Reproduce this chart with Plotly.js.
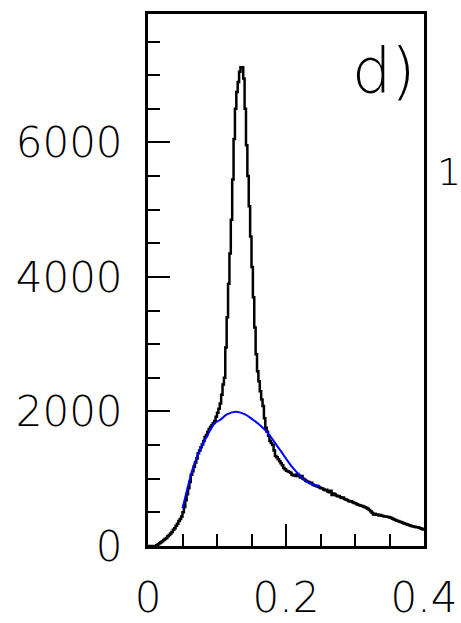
<!DOCTYPE html>
<html>
<head>
<meta charset="utf-8">
<script src="https://cdn.plot.ly/plotly-3.0.1.min.js"></script>
<style>
html,body{margin:0;padding:0;background:#fff;}
#chart{width:461px;height:623px;}
</style>
</head>
<body>
<div id="chart"></div>
<script>
// Histogram: bin width and counts per bin (bins start at 0)
const binWidth = 0.002;
const histCounts = [
  0, 0, 0, 0, 0, 0, 10, 25, 40, 55,
  70, 90, 105, 120, 145, 165, 185, 210, 240, 265,
  300, 330, 370, 400, 440, 500, 580, 680, 770, 860,
  950, 1060, 1110, 1180, 1240, 1300, 1380, 1420, 1470, 1510,
  1560, 1620, 1650, 1700, 1740, 1770, 1800, 1830, 1860, 1920,
  1980, 2040, 2120, 2250, 2400, 2500, 2950, 3400, 3900, 4350,
  4850, 5450, 6050, 6500, 6750, 6900, 7050, 7120, 7120, 6950,
  6500, 5960, 5500, 5050, 4600, 4150, 3700, 3250, 2850, 2600,
  2450, 2300, 2180, 2080, 1900, 1760, 1700, 1640, 1560, 1530,
  1500, 1420, 1340, 1320, 1290, 1260, 1230, 1200, 1160, 1140,
  1120, 1110, 1100, 1090, 1060, 1050, 1060, 1040, 1070, 1050,
  1020, 1040, 1000, 990, 970, 960, 950, 935, 940, 915,
  905, 895, 890, 880, 870, 860, 855, 840, 830, 835,
  810, 800, 820, 760, 780, 770, 750, 740, 745, 725,
  715, 720, 700, 690, 685, 670, 660, 665, 650, 640,
  635, 620, 615, 605, 600, 595, 585, 575, 565, 555,
  535, 515, 495, 470, 480, 465, 470, 455, 460, 450,
  445, 440, 440, 435, 430, 425, 415, 405, 395, 385,
  375, 370, 360, 355, 345, 340, 330, 325, 315, 310,
  300, 295, 290, 285, 280, 280, 270, 265, 255, 245
];

// Background fit (blue)
const fitX = [0.050, 0.058, 0.0657, 0.0773, 0.0851, 0.0966, 0.1043, 0.115, 0.1275, 0.140, 0.1526, 0.162, 0.172, 0.1913, 0.2106, 0.230, 0.240, 0.2493];
const fitY = [560, 890, 1179, 1476, 1625, 1824, 1874, 1960, 1997, 1960, 1874, 1800, 1700, 1428, 1155, 956, 910, 892];

// Axis ticks
const xTickVals = [0, 0.2, 0.4];
const xTickText = ["0", "0.2", "0.4"];
const yTickVals = [0, 2000, 4000, 6000];
const yTickText = ["0", "2000", "4000", "6000"];

const panelLabel = "d)";
const sideLabel = "1";

// build step outline from bins
const stepX = [], stepY = [];
for (let i = 0; i < histCounts.length; i++) {
  stepX.push(i * binWidth);
  stepY.push(histCounts[i]);
}
stepX.push(histCounts.length * binWidth);
stepY.push(histCounts[histCounts.length - 1]);

const font = {family: "DejaVu Sans", size: 42, color: "#000", weight: 200};

const traces = [
  {x: stepX, y: stepY, type: "scatter", mode: "lines",
   line: {shape: "hv", color: "#000", width: 2.5}, hoverinfo: "skip"},
  {x: fitX, y: fitY, type: "scatter", mode: "lines",
   line: {shape: "spline", color: "#0000ff", width: 2}, hoverinfo: "skip"}
];

const layout = {
  width: 461, height: 623,
  margin: {l: 148, r: 37, t: 14, b: 77, pad: 0},
  paper_bgcolor: "#fff", plot_bgcolor: "#fff",
  showlegend: false,
  font: font,
  xaxis: {
    range: [0, 0.4], tickmode: "array", tickvals: xTickVals, ticktext: xTickText,
    ticks: "inside", ticklen: 22, tickwidth: 2, tickcolor: "#000",
    minor: {dtick: 0.05, tick0: 0, ticks: "inside", ticklen: 12, tickwidth: 2, tickcolor: "#000"},
    showline: true, linewidth: 3, linecolor: "#000", mirror: true,
    showgrid: false, zeroline: false, tickfont: font, ticklabelstandoff: 13
  },
  yaxis: {
    range: [0, 7910], tickmode: "array", tickvals: yTickVals, ticktext: yTickText,
    ticks: "inside", ticklen: 22, tickwidth: 2, tickcolor: "#000",
    minor: {dtick: 500, tick0: 0, ticks: "inside", ticklen: 12, tickwidth: 2, tickcolor: "#000"},
    showline: true, linewidth: 3, linecolor: "#000", mirror: true,
    showgrid: false, zeroline: false, tickfont: font, ticklabelstandoff: 14
  },
  annotations: [
    {text: panelLabel, xref: "paper", yref: "paper", x: 0.855, y: 0.893,
     xanchor: "center", yanchor: "middle", showarrow: false,
     font: {family: "DejaVu Sans", size: 62, color: "#000", weight: 200}},
    {text: sideLabel, xref: "paper", yref: "paper", x: 1.091, y: 0.703,
     xanchor: "center", yanchor: "middle", showarrow: false,
     font: {family: "DejaVu Sans", size: 38, color: "#000", weight: 200}}
  ]
};

Plotly.newPlot("chart", traces, layout, {staticPlot: true, displayModeBar: false});
</script>
</body>
</html>
